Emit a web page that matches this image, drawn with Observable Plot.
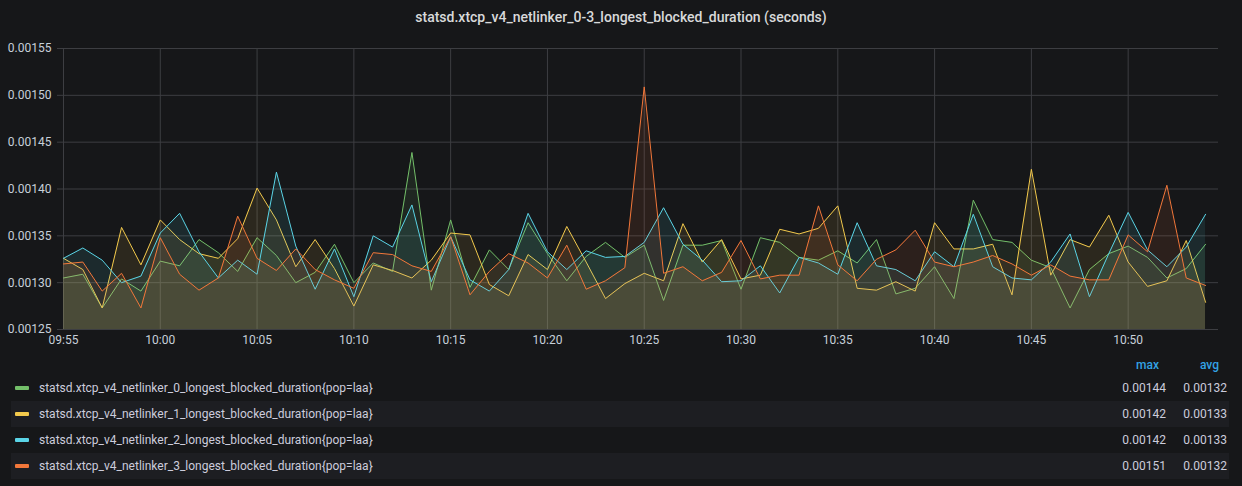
<!DOCTYPE html>
<html><head><meta charset="utf-8">
<script src="https://cdn.jsdelivr.net/npm/d3@7"></script>
<script src="https://cdn.jsdelivr.net/npm/@observablehq/plot@0.6"></script>
<style>
html,body{margin:0;padding:0;background:#161719;}
body{width:1242px;height:486px;position:relative;overflow:hidden;font-family:Roboto,"Noto Sans",sans-serif;}
#title{position:absolute;left:0;top:8px;width:1242px;text-align:center;font-size:14px;font-weight:500;color:#d8d9da;line-height:18px;}
#chart{position:absolute;left:0;top:30px;}
#legend{position:absolute;left:11px;top:352px;width:1218px;height:130px;}
.hdr{position:absolute;top:5px;font-size:12px;font-weight:500;color:#33a2e5;line-height:16px;}
.row{position:absolute;left:0;width:1218px;height:26px;}
.row.alt{background:#1d1e22;}
.sw{position:absolute;left:4px;top:11px;width:14px;height:4px;border-radius:1px;}
.name{position:absolute;left:28px;top:5px;font-size:12px;color:#ccccdc;line-height:16px;white-space:nowrap;}
.val{position:absolute;top:5px;font-size:12px;color:#ccccdc;line-height:16px;text-align:right;}
</style>
</head><body>
<div id="title"></div>
<div id="chart"></div>
<div id="legend"></div>
<script>
// ---- data (values in units of 1e-5 seconds) ----
const chartTitle = "statsd.xtcp_v4_netlinker_0-3_longest_blocked_duration (seconds)";
const startTime = Date.UTC(2020, 0, 1, 9, 55); // 09:55, one sample per minute
const seriesNames = [
  "statsd.xtcp_v4_netlinker_0_longest_blocked_duration{pop=laa}",
  "statsd.xtcp_v4_netlinker_1_longest_blocked_duration{pop=laa}",
  "statsd.xtcp_v4_netlinker_2_longest_blocked_duration{pop=laa}",
  "statsd.xtcp_v4_netlinker_3_longest_blocked_duration{pop=laa}"
];
const netlinker0 = [130.5,130.9,127.3,130.4,129.1,132.3,131.8,134.6,133.2,131.2,134.8,132.9,130.0,131.1,134.1,130.0,132.1,131.2,143.9,129.2,136.7,129.5,133.5,131.4,136.4,133.1,130.2,132.8,134.3,132.7,134.0,128.1,134.0,134.0,134.5,129.3,134.8,134.3,132.7,132.4,133.4,132.1,134.6,128.8,129.4,131.7,128.3,138.8,134.6,134.3,132.4,131.6,127.3,131.4,133.1,133.9,132.7,130.5,131.5,134.1];
const netlinker1 = [132.6,131.4,127.3,135.9,131.9,136.7,134.6,133.1,132.6,134.7,140.1,136.7,131.7,134.6,131.5,127.5,131.9,131.3,130.5,132.4,135.3,135.1,129.8,128.6,133.0,131.4,136.0,132.2,128.3,129.9,131.0,130.2,136.3,132.2,134.6,130.4,130.8,135.7,135.2,135.8,138.2,129.4,129.2,130.1,129.1,136.4,133.6,133.6,134.1,128.7,142.1,130.8,134.6,133.8,137.2,132.2,129.6,130.2,134.5,127.9];
const netlinker2 = [132.6,133.7,132.4,130.0,130.7,135.3,137.4,133.3,130.5,132.4,130.9,141.8,133.9,129.3,133.6,128.5,135.0,133.8,138.3,130.1,134.9,130.3,129.1,131.4,137.4,133.3,131.4,133.4,132.7,132.8,134.3,138.0,134.1,132.4,130.1,130.2,131.8,128.9,132.7,132.1,130.9,136.4,131.8,131.4,130.2,133.3,131.7,137.3,131.7,130.5,130.3,132.2,135.2,128.5,133.1,137.5,133.5,131.7,133.8,137.3];
const netlinker3 = [132.0,132.2,129.1,131.0,127.3,134.8,130.9,129.2,130.5,137.1,132.6,131.3,133.6,131.4,130.3,129.4,133.2,133.0,131.8,131.2,134.9,128.7,131.2,133.1,132.1,130.5,134.0,129.3,130.2,131.6,150.9,131.0,131.7,130.2,131.1,134.5,130.4,130.8,130.8,138.2,131.9,130.2,132.5,133.5,135.6,132.2,131.7,132.2,132.9,132.0,130.8,131.9,130.7,130.3,130.3,135.1,133.3,140.4,130.5,129.7];
const maxLabels = ["0.00144","0.00142","0.00142","0.00151"];
const avgLabels = ["0.00132","0.00133","0.00133","0.00132"];
const yTickValues = [0.00125,0.00130,0.00135,0.00140,0.00145,0.00150,0.00155];
const xTickLabels = ["09:55","10:00","10:05","10:10","10:15","10:20","10:25","10:30","10:35","10:40","10:45","10:50"];

// ---- styles ----
const colors = ["#73bf69","#f2c94c","#5ad4e6","#f2773a"];
const gridColor = "#3d3e42";
const textColor = "#c7d0d9";

const allSeries = [netlinker0, netlinker1, netlinker2, netlinker3];
const tables = allSeries.map(arr => arr.map((v, i) => ({t: new Date(startTime + i * 60000), v: v * 1e-5})));
const parseHM = s => { const [h, m] = s.split(":").map(Number); return new Date(Date.UTC(2020, 0, 1, h, m)); };
const xTicks = xTickLabels.map(parseHM);
const yMin = yTickValues[0], yMax = yTickValues[yTickValues.length - 1];
const xStart = new Date(startTime);
const xEnd = new Date(startTime + 59 * 60000 + 40000);

const marks = [
  Plot.gridY(yTickValues, {stroke: gridColor, strokeOpacity: 1}),
  Plot.gridX(xTicks, {stroke: gridColor, strokeOpacity: 1}),
];
tables.forEach((tb, k) => {
  marks.push(Plot.areaY(tb, {x: "t", y1: () => yMin, y2: "v", fill: colors[k], fillOpacity: 0.1}));
  marks.push(Plot.lineY(tb, {x: "t", y: "v", stroke: colors[k], strokeWidth: 1}));
});
marks.push(Plot.axisY(yTickValues, {tickSize: 6, tickPadding: 6, tickFormat: d => d.toFixed(5), stroke: gridColor, strokeOpacity: 1, fill: textColor, label: null}));
marks.push(Plot.axisX(xTicks, {tickSize: 0, tickPadding: 6, tickFormat: d3.utcFormat("%H:%M"), fill: textColor, label: null}));

const plot = Plot.plot({
  width: 1242, height: 321,
  marginTop: 18, marginBottom: 22, marginLeft: 63, marginRight: 24,
  style: {background: "transparent", color: textColor, fontFamily: "Roboto, 'Noto Sans', sans-serif", fontSize: "12px"},
  x: {type: "utc", domain: [xStart, xEnd]},
  y: {domain: [yMin, yMax]},
  marks
});
document.getElementById("chart").appendChild(plot);
document.getElementById("title").textContent = chartTitle;

// ---- legend table ----
const lg = document.getElementById("legend");
const h1 = document.createElement("div"); h1.className = "hdr"; h1.style.right = "70px"; h1.textContent = "max"; lg.appendChild(h1);
const h2 = document.createElement("div"); h2.className = "hdr"; h2.style.right = "10px"; h2.textContent = "avg"; lg.appendChild(h2);
seriesNames.forEach((name, k) => {
  const row = document.createElement("div");
  row.className = "row" + (k % 2 === 1 ? " alt" : "");
  row.style.top = (23 + 26 * k) + "px";
  const sw = document.createElement("div"); sw.className = "sw"; sw.style.background = colors[k]; row.appendChild(sw);
  const nm = document.createElement("div"); nm.className = "name"; nm.textContent = name; row.appendChild(nm);
  const mx = document.createElement("div"); mx.className = "val"; mx.style.right = "63px"; mx.textContent = maxLabels[k]; row.appendChild(mx);
  const av = document.createElement("div"); av.className = "val"; av.style.right = "2px"; av.textContent = avgLabels[k]; row.appendChild(av);
  lg.appendChild(row);
});
</script>
</body></html>
